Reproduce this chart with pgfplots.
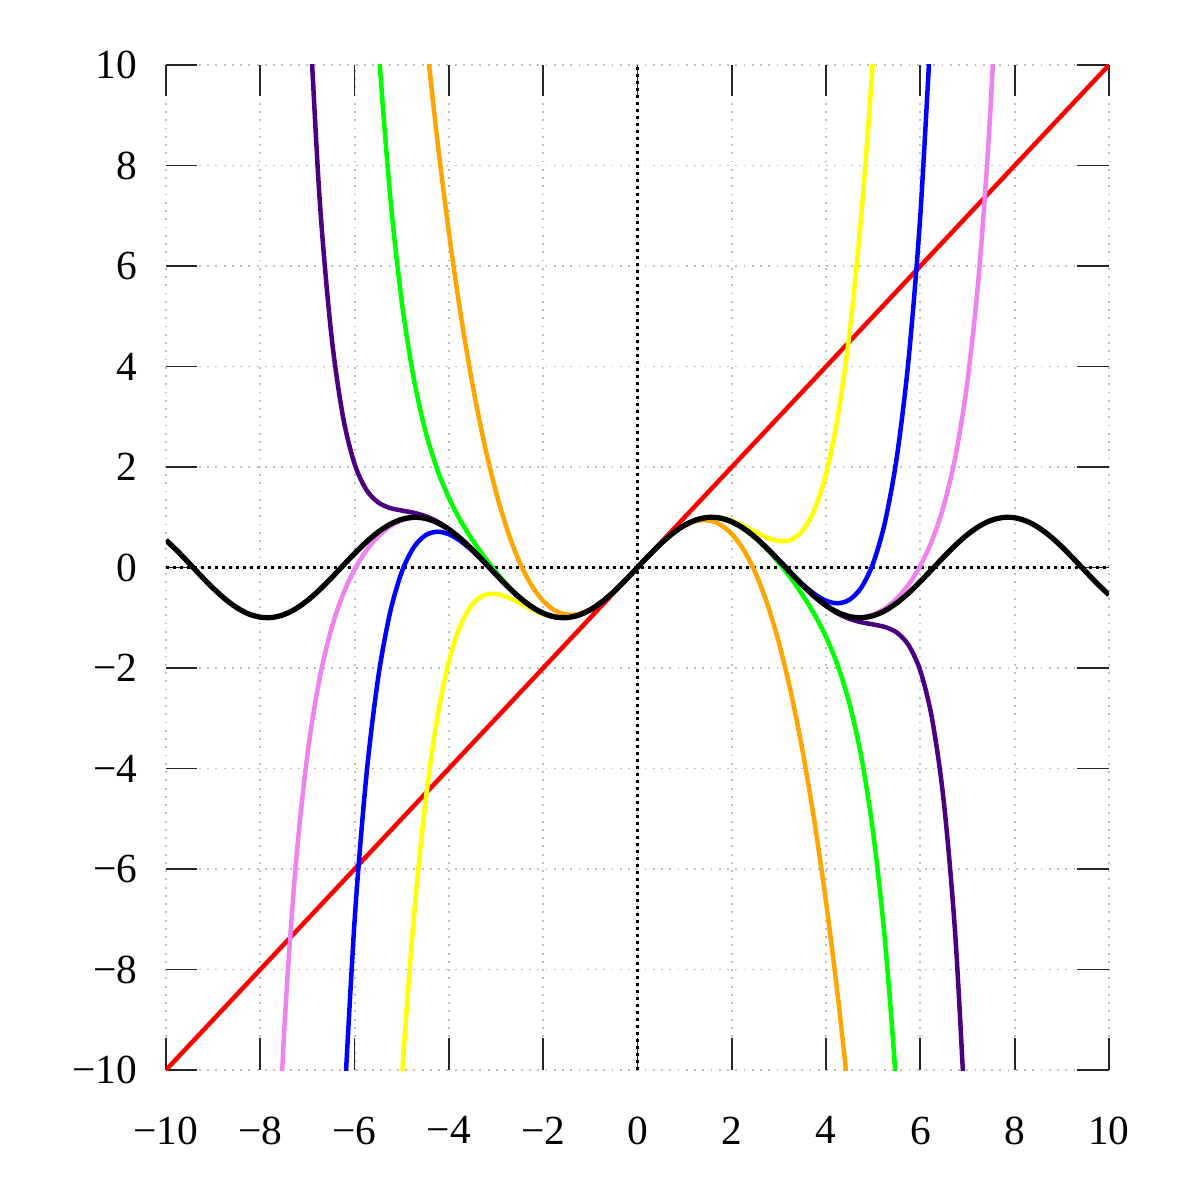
\documentclass[border=0pt]{standalone}
\usepackage{fontspec}
\setmainfont{Liberation Serif}
\usepackage{pgfplots}
\pgfplotsset{compat=1.18}

\definecolor{tRed}{HTML}{FF0000}
\definecolor{tOrange}{HTML}{FFA500}
\definecolor{tYellow}{HTML}{FFFF00}
\definecolor{tGreen}{HTML}{00FF00}
\definecolor{tBlue}{HTML}{0000FF}
\definecolor{tIndigo}{HTML}{4B0082}
\definecolor{tViolet}{HTML}{EE82EE}

\begin{document}
\begin{tikzpicture}
\begin{axis}[
  scale only axis,
  width=314.33pt, height=335pt,
  xmin=-10, xmax=10, ymin=-10, ymax=10,
  enlargelimits=false,
  axis line style={draw=none},
  tick pos=both,
  xticklabel pos=bottom, yticklabel pos=left,
  tick align=inside,
  major tick length=10.5pt,
  tick style={black!85, line width=0.6pt},
  grid=major,
  major grid style={gray!50, line width=0.65pt, dash pattern=on 0.65pt off 2.1pt},
  xtick={-10,-8,...,10}, ytick={-10,-8,...,10},
  xticklabels={−10,−8,−6,−4,−2,0,2,4,6,8,10},
  yticklabels={−10,−8,−6,−4,−2,0,2,4,6,8,10},
  ticklabel style={font=\fontsize{13.8}{16}\selectfont},
  xticklabel shift=12pt, yticklabel shift=6pt,
  every axis plot/.append style={line width=1.5pt, line join=round},
]
\coordinate (sw) at (rel axis cs:0,0);
\coordinate (ne) at (rel axis cs:1,1);

% dotted coordinate axes through the origin
\addplot[black, line width=1pt, dash pattern=on 1pt off 1.33pt] coordinates {(-10,0) (10,0)};
\addplot[black, line width=1pt, dash pattern=on 1pt off 1.33pt] coordinates {(0,-10) (0,10)};

% degree 1
\addplot[tRed] coordinates {(-10,-10) (10,10)};

% degree 3
\addplot[tOrange, smooth] coordinates {
(-4.5,10.6875) (-4.25,8.5443) (-4,6.6667) (-3.75,5.0391) (-3.5,3.6458) (-3.25,2.4714)
(-3,1.5) (-2.75,0.7161) (-2.5,0.1042) (-2.25,-0.3516) (-2,-0.6667) (-1.75,-0.8568)
(-1.5,-0.9375) (-1.25,-0.9245) (-1,-0.8333) (-0.75,-0.6797) (-0.5,-0.4792) (-0.25,-0.2474)
(0,0)
(0.25,0.2474) (0.5,0.4792) (0.75,0.6797) (1,0.8333) (1.25,0.9245) (1.5,0.9375)
(1.75,0.8568) (2,0.6667) (2.25,0.3516) (2.5,-0.1042) (2.75,-0.7161) (3,-1.5)
(3.25,-2.4714) (3.5,-3.6458) (3.75,-5.0391) (4,-6.6667) (4.25,-8.5443) (4.5,-10.6875)};

% degree 5
\addplot[tYellow, smooth] coordinates {
(-5.25,-14.3693) (-5,-10.2083) (-4.75,-7.0386) (-4.5,-4.6898) (-4.25,-3.0106) (-4,-1.8667)
(-3.75,-1.1407) (-3.5,-0.7310) (-3.25,-0.5502) (-3,-0.5250) (-2.75,-0.5945) (-2.5,-0.7096)
(-2.25,-0.8321) (-2,-0.9333) (-1.75,-0.9935) (-1.5,-1.0008) (-1.25,-0.9499) (-1,-0.8417)
(-0.75,-0.6817) (-0.5,-0.4794) (-0.25,-0.2474)
(0,0)
(0.25,0.2474) (0.5,0.4794) (0.75,0.6817) (1,0.8417) (1.25,0.9499) (1.5,1.0008)
(1.75,0.9935) (2,0.9333) (2.25,0.8321) (2.5,0.7096) (2.75,0.5945) (3,0.5250)
(3.25,0.5502) (3.5,0.7310) (3.75,1.1407) (4,1.8667) (4.25,3.0106) (4.5,4.6898)
(4.75,7.0386) (5,10.2083) (5.25,14.3693)};

% degree 7
\addplot[tGreen, smooth] coordinates {
(-5.75,14.7887) (-5.5,10.4958) (-5.25,7.4421) (-5,5.2927) (-4.75,3.7864) (-4.5,2.7242)
(-4.25,1.9587) (-4,1.3841) (-3.75,0.9284) (-3.5,0.5456) (-3.25,0.2097) (-3,-0.0911)
(-2.75,-0.3585) (-2.5,-0.5885) (-2.25,-0.7742) (-2,-0.9079) (-1.75,-0.9836) (-1.5,-0.9974)
(-1.25,-0.9490) (-1,-0.8415) (-0.75,-0.6816) (-0.5,-0.4794) (-0.25,-0.2474)
(0,0)
(0.25,0.2474) (0.5,0.4794) (0.75,0.6816) (1,0.8415) (1.25,0.9490) (1.5,0.9974)
(1.75,0.9836) (2,0.9079) (2.25,0.7742) (2.5,0.5885) (2.75,0.3585) (3,0.0911)
(3.25,-0.2097) (3.5,-0.5456) (3.75,-0.9284) (4,-1.3841) (4.25,-1.9587) (4.5,-2.7242)
(4.75,-3.7864) (5,-5.2927) (5.25,-7.4421) (5.5,-10.4958) (5.75,-14.7887)};

% degree 9
\addplot[tBlue, smooth] coordinates {
(-6.25,-11.2194) (-6,-7.0286) (-5.75,-4.1453) (-5.5,-2.1954) (-5.25,-0.9076) (-5,-0.0896)
(-4.75,0.3942) (-4.5,0.6390) (-4.25,0.7121) (-4,0.6617) (-3.75,0.5243) (-3.5,0.3284)
(-3.25,0.0982) (-3,-0.1453) (-2.75,-0.3833) (-2.5,-0.5990) (-2.25,-0.7783) (-2,-0.9093)
(-1.75,-0.9840) (-1.5,-0.9975) (-1.25,-0.9490) (-1,-0.8415) (-0.75,-0.6816) (-0.5,-0.4794)
(-0.25,-0.2474)
(0,0)
(0.25,0.2474) (0.5,0.4794) (0.75,0.6816) (1,0.8415) (1.25,0.9490) (1.5,0.9975)
(1.75,0.9840) (2,0.9093) (2.25,0.7783) (2.5,0.5990) (2.75,0.3833) (3,0.1453)
(3.25,-0.0982) (3.5,-0.3284) (3.75,-0.5243) (4,-0.6617) (4.25,-0.7121) (4.5,-0.6390)
(4.75,-0.3942) (5,0.0896) (5.25,0.9076) (5.5,2.1954) (5.75,4.1453) (6,7.0286)
(6.25,11.2194)};

% degree 11
\addplot[tIndigo, smooth] coordinates {
(-7,11.8422) (-6.75,7.4538) (-6.5,4.6925) (-6.25,3.0210) (-6,2.0603) (-5.75,1.5458)
(-5.5,1.2947) (-5.25,1.1846) (-5,1.1336) (-4.75,1.0900) (-4.5,1.0229) (-4.25,0.9168)
(-4,0.7668) (-3.75,0.5759) (-3.5,0.3526) (-3.25,0.1089) (-3,-0.1409) (-2.75,-0.3816)
(-2.5,-0.5984) (-2.25,-0.7781) (-2,-0.9093) (-1.75,-0.9840) (-1.5,-0.9975) (-1.25,-0.9490)
(-1,-0.8415) (-0.75,-0.6816) (-0.5,-0.4794) (-0.25,-0.2474)
(0,0)
(0.25,0.2474) (0.5,0.4794) (0.75,0.6816) (1,0.8415) (1.25,0.9490) (1.5,0.9975)
(1.75,0.9840) (2,0.9093) (2.25,0.7781) (2.5,0.5984) (2.75,0.3816) (3,0.1409)
(3.25,-0.1089) (3.5,-0.3526) (3.75,-0.5759) (4,-0.7668) (4.25,-0.9168) (4.5,-1.0229)
(4.75,-1.0900) (5,-1.1336) (5.25,-1.1846) (5.5,-1.2947) (5.75,-1.5458) (6,-2.0603)
(6.25,-3.0210) (6.5,-4.6925) (6.75,-7.4538) (7,-11.8422)};

% degree 13
\addplot[tViolet, smooth] coordinates {
(-7.75,-14.5816) (-7.5,-9.3504) (-7.25,-5.9430) (-7,-3.7173) (-6.75,-2.2439) (-6.5,-1.2449)
(-6.25,-0.5448) (-6,-0.0372) (-5.75,0.3396) (-5.5,0.6179) (-5.25,0.8150) (-5,0.9376)
(-4.75,0.9893) (-4.5,0.9731) (-4.25,0.8931) (-4,0.7560) (-3.75,0.5713) (-3.5,0.3507)
(-3.25,0.1082) (-3,-0.1411) (-2.75,-0.3817) (-2.5,-0.5985) (-2.25,-0.7781) (-2,-0.9093)
(-1.75,-0.9840) (-1.5,-0.9975) (-1.25,-0.9490) (-1,-0.8415) (-0.75,-0.6816) (-0.5,-0.4794)
(-0.25,-0.2474)
(0,0)
(0.25,0.2474) (0.5,0.4794) (0.75,0.6816) (1,0.8415) (1.25,0.9490) (1.5,0.9975)
(1.75,0.9840) (2,0.9093) (2.25,0.7781) (2.5,0.5985) (2.75,0.3817) (3,0.1411)
(3.25,-0.1082) (3.5,-0.3507) (3.75,-0.5713) (4,-0.7560) (4.25,-0.8931) (4.5,-0.9731)
(4.75,-0.9893) (5,-0.9376) (5.25,-0.8150) (5.5,-0.6179) (5.75,-0.3396) (6,0.0372)
(6.25,0.5448) (6.5,1.2449) (6.75,2.2439) (7,3.7173) (7.25,5.9430) (7.5,9.3504)
(7.75,14.5816)};

% sine
\addplot[black, smooth, line width=1.75pt] coordinates {
(-10,0.5440) (-9.75,0.3195) (-9.5,0.0752) (-9.25,-0.1739) (-9,-0.4121) (-8.75,-0.6247)
(-8.5,-0.7985) (-8.25,-0.9226) (-8,-0.9894) (-7.75,-0.9946) (-7.5,-0.9380) (-7.25,-0.8231)
(-7,-0.6570) (-6.75,-0.4500) (-6.5,-0.2151) (-6.25,0.0332) (-6,0.2794) (-5.75,0.5083)
(-5.5,0.7055) (-5.25,0.8589) (-5,0.9589) (-4.75,0.9993) (-4.5,0.9775) (-4.25,0.8950)
(-4,0.7568) (-3.75,0.5716) (-3.5,0.3508) (-3.25,0.1082) (-3,-0.1411) (-2.75,-0.3817)
(-2.5,-0.5985) (-2.25,-0.7781) (-2,-0.9093) (-1.75,-0.9840) (-1.5,-0.9975) (-1.25,-0.9490)
(-1,-0.8415) (-0.75,-0.6816) (-0.5,-0.4794) (-0.25,-0.2474)
(0,0)
(0.25,0.2474) (0.5,0.4794) (0.75,0.6816) (1,0.8415) (1.25,0.9490) (1.5,0.9975)
(1.75,0.9840) (2,0.9093) (2.25,0.7781) (2.5,0.5985) (2.75,0.3817) (3,0.1411)
(3.25,-0.1082) (3.5,-0.3508) (3.75,-0.5716) (4,-0.7568) (4.25,-0.8950) (4.5,-0.9775)
(4.75,-0.9993) (5,-0.9589) (5.25,-0.8589) (5.5,-0.7055) (5.75,-0.5083) (6,-0.2794)
(6.25,-0.0332) (6.5,0.2151) (6.75,0.4500) (7,0.6570) (7.25,0.8231) (7.5,0.9380)
(7.75,0.9946) (8,0.9894) (8.25,0.9226) (8.5,0.7985) (8.75,0.6247) (9,0.4121)
(9.25,0.1739) (9.5,-0.0752) (9.75,-0.3195) (10,-0.5440)};
\end{axis}
\pgfresetboundingbox
\useasboundingbox ([xshift=-55.33pt,yshift=-43.33pt]sw) rectangle ([xshift=30.33pt,yshift=21.67pt]ne);
\end{tikzpicture}
\end{document}
